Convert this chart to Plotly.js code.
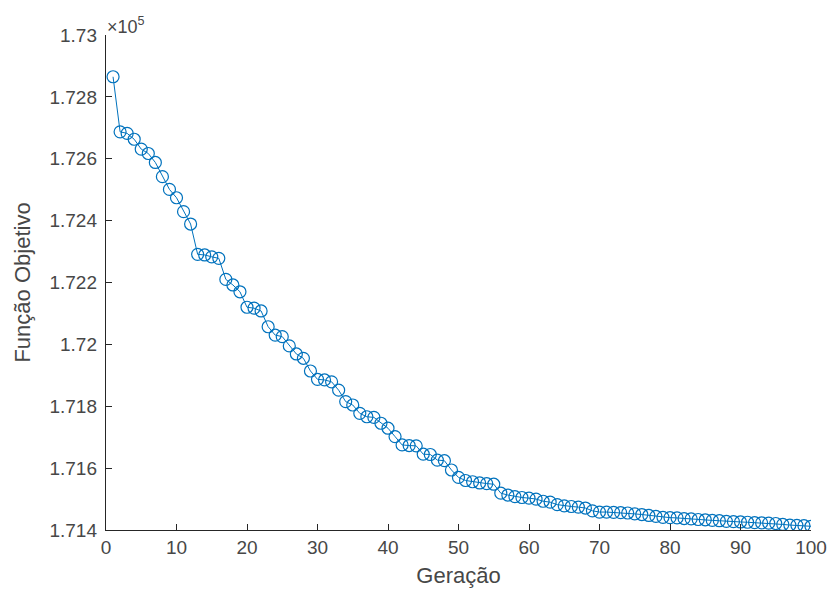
<!DOCTYPE html>
<html>
<head>
<meta charset="utf-8">
<script src="https://cdn.plot.ly/plotly-3.0.1.min.js"></script>
<style>html,body{margin:0;padding:0;background:#fff;}#chart{width:828px;height:594px;}</style>
</head>
<body>
<div id="chart"></div>
<script>
const geracao = Array.from({length: 100}, (_, i) => i + 1);
const funcaoObjetivo = [
  172865, 172687, 172682, 172663, 172631, 172617, 172588, 172542, 172501, 172474,
  172429, 172389, 172291, 172289, 172283, 172278, 172210, 172192, 172170, 172120,
  172117, 172108, 172057, 172030, 172025, 171995, 171969, 171955, 171914, 171887,
  171885, 171879, 171852, 171815, 171804, 171777, 171766, 171764, 171745, 171729,
  171702, 171675, 171673, 171672, 171645, 171644, 171626, 171624, 171594, 171570,
  171560, 171556, 171552, 171550, 171548, 171519, 171513, 171508, 171505, 171503,
  171500, 171493, 171490, 171482, 171478, 171476, 171474, 171471, 171462, 171458,
  171458, 171457, 171456, 171455, 171452, 171450, 171447, 171444, 171441, 171440,
  171439, 171437, 171436, 171434, 171433, 171431, 171430, 171428, 171427, 171426,
  171425, 171424, 171423, 171422, 171421, 171418, 171416, 171415, 171414, 171412
];
const xTickVals = [0, 10, 20, 30, 40, 50, 60, 70, 80, 90, 100];
const yTickVals = [171400, 171600, 171800, 172000, 172200, 172400, 172600, 172800, 173000];
const yTickText = ['1.714', '1.716', '1.718', '1.72', '1.722', '1.724', '1.726', '1.728', '1.73'];

const trace = {
  x: geracao,
  y: funcaoObjetivo,
  type: 'scatter',
  mode: 'lines+markers',
  line: {color: '#0072BD', width: 1},
  marker: {symbol: 'circle-open', size: 12, color: '#0072BD', line: {width: 1.2, color: '#0072BD'}},
  hoverinfo: 'skip'
};

const fam = 'Liberation Sans, Arial, sans-serif';
const axisFont = {family: fam, size: 19, color: '#474747'};
const titleFont = {family: fam, size: 22, color: '#474747'};

const layout = {
  width: 828, height: 594,
  margin: {l: 106, r: 17, t: 35, b: 64},
  paper_bgcolor: '#ffffff',
  plot_bgcolor: '#ffffff',
  showlegend: false,
  xaxis: {
    range: [0, 100],
    tickvals: xTickVals,
    ticks: 'inside', ticklen: 6, tickcolor: '#262626', tickwidth: 1,
    showline: true, linecolor: '#262626', linewidth: 1.2,
    showgrid: false, zeroline: false,
    tickfont: axisFont,
    title: {text: 'Geração', font: titleFont, standoff: 10}
  },
  yaxis: {
    range: [171400, 173000],
    tickvals: yTickVals,
    ticktext: yTickText,
    ticks: 'inside', ticklen: 6, tickcolor: '#262626', tickwidth: 1,
    ticklabelstandoff: 4,
    showline: true, linecolor: '#262626', linewidth: 1.2,
    showgrid: false, zeroline: false,
    tickfont: axisFont,
    title: {text: 'Função Objetivo', font: titleFont, standoff: 12}
  },
  annotations: [{
    xref: 'paper', yref: 'paper', x: 0, y: 1,
    xanchor: 'left', yanchor: 'bottom', yshift: -4, xshift: -1,
    text: '×10<sup>5</sup>', showarrow: false,
    font: {family: fam, size: 18, color: '#474747'}
  }]
};

Plotly.newPlot('chart', [trace], layout, {displayModeBar: false, staticPlot: true});
</script>
</body>
</html>
